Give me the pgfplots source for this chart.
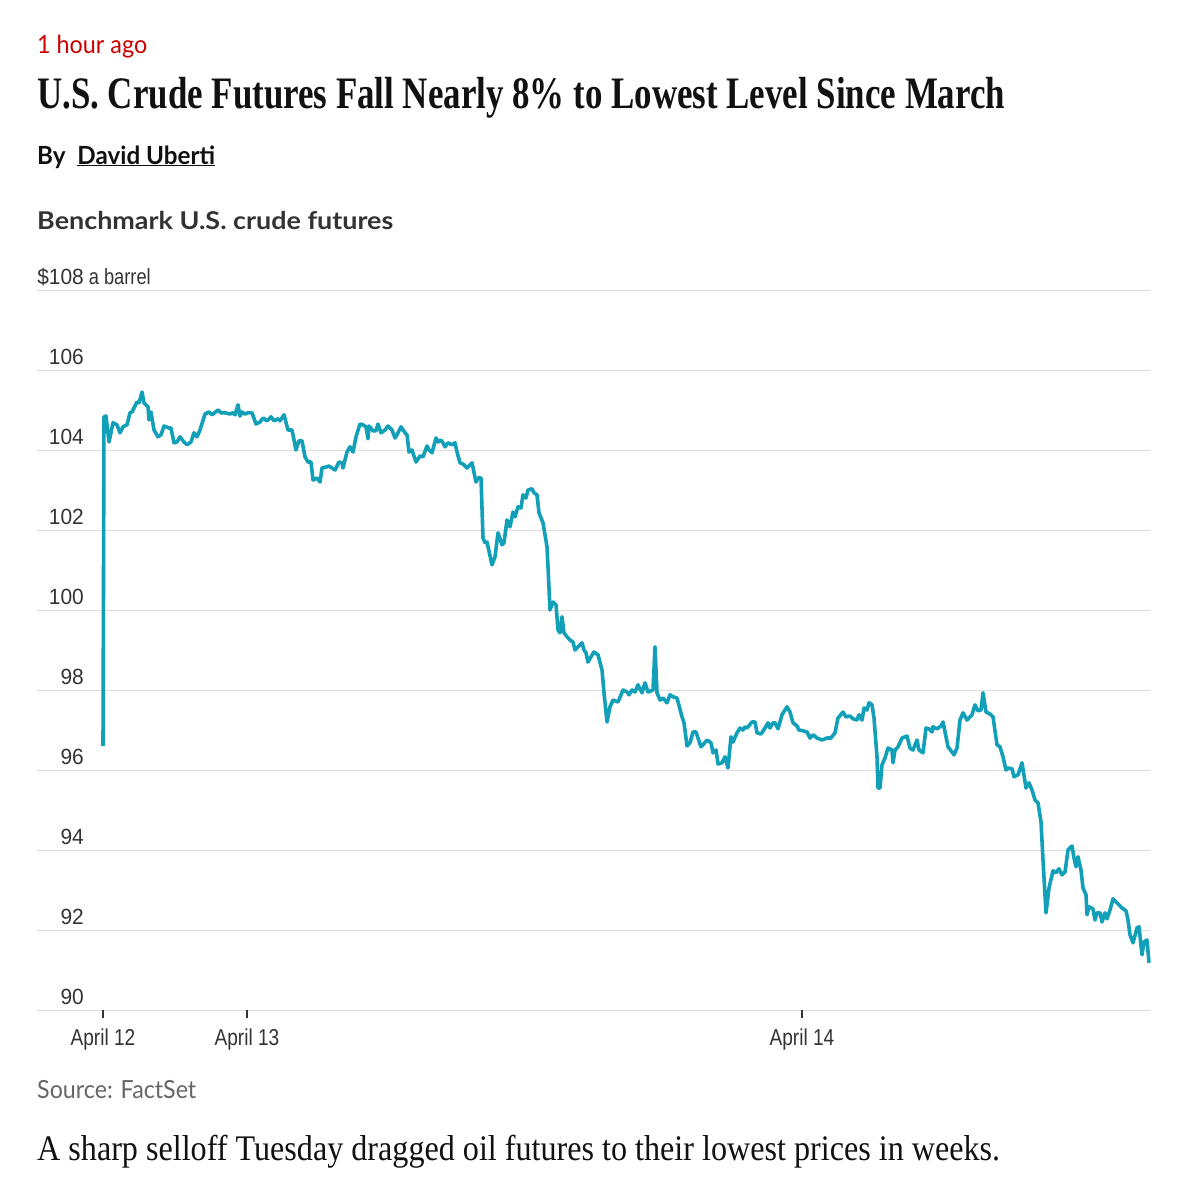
\documentclass[border=0pt]{standalone}
\usepackage{pgfplots}
\pgfplotsset{compat=1.18}
\usepackage{fontspec}
\usepackage{graphicx}
\setmainfont{Lato}
\newfontfamily\narrowfont[FakeStretch=0.83]{Liberation Sans}
\newfontfamily\digitfont[FakeStretch=0.95]{Liberation Sans}
\newfontfamily\titlefont{Liberation Serif}
\newfontfamily\bodyserif{Liberation Serif}
\definecolor{wsjred}{HTML}{CC0000}
\definecolor{linecol}{HTML}{11A0B8}
\definecolor{gridgray}{HTML}{DDDDDD}
\definecolor{labelgray}{HTML}{333333}
\definecolor{srcgray}{HTML}{666666}
\definecolor{titleblack}{HTML}{111111}
\begin{document}
\begin{tikzpicture}[x=1pt,y=1pt]
\path[use as bounding box] (0,0) rectangle (1196,-1200);
\node[anchor=base west, inner sep=0, text=wsjred] at (37,-53) {\resizebox{110pt}{\height}{\fontsize{25}{30}\selectfont 1 hour ago}};
\node[anchor=base west, inner sep=0, text=titleblack] at (37,-108) {\resizebox{968pt}{\height}{\titlefont\fontsize{45}{50}\selectfont\bfseries U.S. Crude Futures Fall Nearly 8\% to Lowest Level Since March}};
\node[anchor=base west, inner sep=0, text=titleblack] at (37,-164) {\resizebox{178pt}{\height}{\fontsize{25}{30}\selectfont\bfseries By\ \ \underline{David Uberti}}};
\node[anchor=base west, inner sep=0, text=labelgray] at (37,-229) {\resizebox{356pt}{\height}{\fontsize{24.5}{30}\selectfont\bfseries Benchmark U.S. crude futures}};
\node[anchor=base west, inner sep=0, text=srcgray] at (37,-1098) {\resizebox{159pt}{\height}{\fontsize{25}{30}\selectfont Source: FactSet}};
\node[anchor=base west, inner sep=0, text=titleblack] at (37,-1160) {\resizebox{963pt}{\height}{\bodyserif\fontsize{36}{40}\selectfont A sharp selloff Tuesday dragged oil futures to their lowest prices in weeks.}};
\begin{axis}[
  at={(37pt,-1010pt)}, anchor=south west, scale only axis,
  width=1113pt, height=720pt,
  xmin=37, xmax=1150, ymin=90, ymax=108,
  axis line style={draw=none},
  ytick={90,92,94,96,98,100,102,104,106,108},
  yticklabels={90,92,94,96,98,100,102,104,106,{\llap{\$}108\rlap{\narrowfont\ a barrel}}},
  ymajorgrids, grid style={gridgray, line width=1pt},
  xtick={103,247,802}, xticklabels={April 12,April 13,April 14},
  tick align=outside, tick pos=left,
  ytick style={draw=none}, xtick style={draw=labelgray, line width=1.2pt},
  major tick length=8pt,
  yticklabel style={anchor=base east, inner sep=0pt, xshift=55pt, yshift=6pt, font=\digitfont\fontsize{22}{24}\selectfont, text=labelgray},
  xticklabel style={anchor=base, inner sep=0pt, yshift=-27pt, font=\narrowfont\fontsize{23}{24}\selectfont, text=labelgray},
  clip=false,
]
\addplot[linecol, line width=3.6pt, line join=round] coordinates {
(103,96.6) (104,104.83) (106,104.85) (109,104.2) (113,104.68) (117,104.63) (120,104.43) (123,104.58) (127,104.63) (130,104.93) (132,104.95) (137,105.2) (139,105.18) (142,105.45) (144,105.18) (148,105.08) (149,104.75) (151,104.95) (154,104.5) (158,104.33) (161,104.38) (164,104.6) (169,104.55) (171,104.55) (174,104.18) (177,104.2) (180,104.33) (184,104.2) (187,104.13) (191,104.2) (194,104.43) (197,104.33) (200,104.5) (205,104.9) (209,104.95) (212,104.88) (218,105.0) (221,104.93) (225,104.93) (230,104.9) (233,104.93) (235,104.88) (238,105.13) (240,104.85) (242,104.95) (245,104.9) (248,104.93) (252,104.93) (256,104.65) (260,104.7) (263,104.8) (267,104.73) (271,104.83) (274,104.73) (278,104.78) (280,104.73) (284,104.88) (288,104.5) (292,104.5)
(296,104.0) (299,104.23) (302,104.23) (305,103.83) (308,103.7) (311,103.7) (313,103.25) (317,103.3) (320,103.2) (322,103.55) (327,103.58) (329,103.6) (332,103.55) (335,103.5) (339,103.7) (342,103.68) (343,103.55) (347,103.95) (350,104.08) (353,103.95) (356,104.33) (360,104.65) (363,104.63) (366,104.58) (368,104.28) (369,104.6) (373,104.48) (376,104.48) (378,104.65) (381,104.43) (385,104.5) (388,104.6) (392,104.5) (395,104.3) (397,104.38) (401,104.58) (405,104.43) (407,104.38) (409,103.95) (412,104.0) (416,103.7) (420,103.85) (423,103.83) (427,104.1) (429,104.0) (432,103.93) (436,104.3) (438,104.2) (441,104.25) (443,104.18) (445,104.08) (448,104.18) (452,104.13) (455,104.18) (457,103.95) (460,103.68) (463,103.65) (467,103.55) (472,103.68) (476,103.2) (478,103.3) (481,103.3) (483,101.8) (485,101.68) (487,101.7)
(492,101.13) (495,101.33) (498,101.93) (502,101.63) (504,101.68) (507,102.25) (510,102.08) (513,102.45) (515,102.33) (518,102.58) (521,102.55) (523,102.88) (526,102.8) (528,103.0) (532,103.03) (534,102.93) (537,102.88) (539,102.43) (543,102.18) (547,101.58) (548,101.08) (550,100.0) (553,100.2) (556,100.13) (558,99.5) (560,99.43) (562,99.83) (564,99.43) (567,99.33) (570,99.25) (573,99.2) (575,99.0) (578,99.08) (582,99.18) (584,99.0) (586,98.93) (588,98.7) (591,98.83) (594,98.95) (598,98.88) (602,98.5) (604,97.93) (607,97.2) (610,97.58) (613,97.75) (618,97.7) (623,98.0) (627,97.95) (629,97.88) (632,98.0) (635,97.95) (638,98.13) (642,97.93) (645,98.18) (648,97.95) (653,98.0) (655,99.08) (657,97.93) (660,97.75) (663,97.8) (667,97.68) (670,97.88) (673,97.83) (677,97.8)
(682,97.33) (684,97.18) (687,96.6) (690,96.68) (693,96.95) (696,96.95) (698,96.8) (701,96.58) (703,96.63) (707,96.75) (711,96.68) (713,96.43) (716,96.5) (718,96.15) (722,96.18) (725,96.33) (728,96.05) (731,96.83) (733,96.7) (737,96.93) (740,97.05) (743,97.0) (745,97.08) (747,97.05) (752,97.2) (755,97.2) (757,96.93) (761,96.9) (765,97.05) (768,97.18) (770,97.05) (773,97.18) (775,97.18) (778,97.03) (782,97.38) (787,97.58) (790,97.45) (793,97.18) (797,97.1) (799,97.0) (803,96.98) (807,96.95) (810,96.8) (813,96.88) (817,96.8) (822,96.75) (827,96.8) (831,96.8) (835,96.93) (838,97.3) (843,97.45) (846,97.33) (850,97.35) (853,97.28) (857,97.25) (859,97.38) (862,97.25) (864,97.55) (867,97.5) (869,97.68) (872,97.63) (874,97.3) (877,96.33) (878,95.55) (880,95.55) (882,96.13) (885,96.3) (888,96.55) (892,96.5) (893,96.18) (895,96.5) (898,96.58) (902,96.8) (907,96.85) (910,96.55) (913,96.5) (917,96.75) (919,96.5) (923,96.43) (926,97.05) (929,97.03) (932,96.95) (933,97.08) (937,97.03) (941,97.1) (943,97.2) (946,96.83) (948,96.58) (952,96.45) (954,96.38) (957,96.55)
(960,97.25) (963,97.43) (967,97.25) (972,97.38) (975,97.63) (978,97.48) (981,97.5) (983,97.93) (986,97.45) (990,97.4) (993,97.33) (997,96.63) (1000,96.58) (1003,96.33) (1006,96.0) (1008,96.05) (1012,96.03) (1014,95.83) (1018,95.88) (1022,96.18) (1026,95.55) (1029,95.68) (1032,95.5) (1035,95.25) (1038,95.18) (1041,94.7) (1043,93.75) (1046,92.43) (1049,93.05) (1053,93.48) (1056,93.43) (1059,93.53) (1062,93.38) (1065,93.45) (1068,94.0) (1072,94.1) (1074,93.8) (1076,93.58) (1078,93.83) (1081,93.5) (1083,93.05) (1086,92.88) (1087,92.38) (1089,92.58) (1093,92.53) (1095,92.25) (1097,92.43) (1100,92.43) (1102,92.2) (1105,92.43) (1107,92.28) (1110,92.5) (1113,92.78) (1117,92.68) (1122,92.55) (1126,92.48) (1128,92.25) (1130,91.88) (1133,91.68) (1137,92.05) (1139,92.08) (1142,91.38) (1144,91.7) (1147,91.75) (1149,91.18)
};
\end{axis}
\end{tikzpicture}
\end{document}
